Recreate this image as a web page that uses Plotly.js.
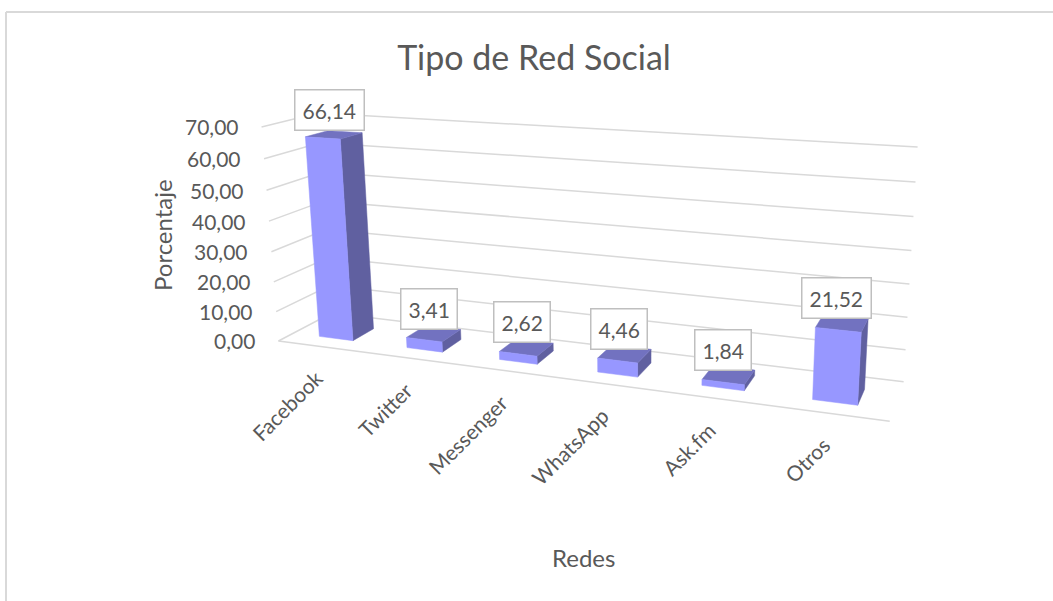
<!DOCTYPE html>
<html><head><meta charset="utf-8">
<script src="https://cdn.plot.ly/plotly-3.0.1.min.js"></script>
<style>html,body{margin:0;padding:0;background:#fff}#c{width:1053px;height:601px}</style>
</head><body><div id="c"></div>
<script>
var categories=["Facebook","Twitter","Messenger","WhatsApp","Ask.fm","Otros"];
var values=[66.14,3.41,2.62,4.46,1.84,21.52];
var barLabels=["66,14","3,41","2,62","4,46","1,84","21,52"];
var zTicks=[0,10,20,30,40,50,60,70];
var zTickText=["0,00","10,00","20,00","30,00","40,00","50,00","60,00","70,00"];
var zMax=70;

var FONT='Lato',INK='#595959',GRID='#d9d9d9';
var FRONT='#9797ff',SIDE='#6060a0',TOP='#7272c0';
var BAR=0.39,Y0=0.27,Y1=0.68;

// Perspective scale: (category, depth, value) to the hidden cartesian axes, fitted on the box corners
var corners=[[0,0,0,278,341,3],[1,0,0,890,421,1],[0,1,0,336,313,1],[1,1,0,903,382,1],[0,0,1,262,127,3],[0,1,1,314,113,1],[1,1,1,918,147,1]];
function fitCamera(){
 var A=[],b=[];
 corners.forEach(function(q){
  var x=q[0],y=q[1],z=q[2],u=q[3]/1000,v=q[4]/1000,w=q[5];
  A.push([x,y,z,1,0,0,0,0,-u*x,-u*y,-u*z].map(function(e){return e*w}));b.push(u*w);
  A.push([0,0,0,0,x,y,z,1,-v*x,-v*y,-v*z].map(function(e){return e*w}));b.push(v*w);
 });
 var n=11,M=[];
 for(var i=0;i<n;i++){M.push([]);for(var j=0;j<n;j++){var s=0;A.forEach(function(r){s+=r[i]*r[j]});M[i].push(s)}
  var t=0;A.forEach(function(r,k){t+=r[i]*b[k]});M[i].push(t)}
 for(var c=0;c<n;c++){var p=c;for(var r=c+1;r<n;r++)if(Math.abs(M[r][c])>Math.abs(M[p][c]))p=r;
  var tmp=M[c];M[c]=M[p];M[p]=tmp;
  for(var r=0;r<n;r++)if(r!==c){var f=M[r][c]/M[c][c];for(var j=c;j<=n;j++)M[r][j]-=f*M[c][j]}}
 return M.map(function(r,i){return r[n]/r[i]});
}
var C=fitCamera();
function proj(cat,depth,val){
 var x=cat/categories.length,y=depth,z=val/zMax,w=C[8]*x+C[9]*y+C[10]*z+1;
 return [1000*(C[0]*x+C[1]*y+C[2]*z+C[3])/w,1000*(C[4]*x+C[5]*y+C[6]*z+C[7])/w];
}
function poly(tr,pts){pts.forEach(function(p){tr.x.push(p[0]);tr.y.push(p[1])});tr.x.push(pts[0][0],null);tr.y.push(pts[0][1],null)}
function face(color){return {type:'scatter',mode:'lines',x:[],y:[],fill:'toself',fillcolor:color,line:{color:color,width:0.5},hoverinfo:'skip',connectgaps:false,showlegend:false}}

var traces=[];
zTicks.forEach(function(v){
 var a=proj(0,0,v),b=proj(0,1,v),c=proj(categories.length,1,v);
 traces.push({type:'scatter',mode:'lines',x:[a[0],b[0],c[0]],y:[a[1],b[1],c[1]],line:{color:GRID,width:1.5},hoverinfo:'skip',showlegend:false});
});
var f0=proj(0,0,0),f1=proj(categories.length,0,0);
traces.push({type:'scatter',mode:'lines',x:[f0[0],f1[0]],y:[f0[1],f1[1]],line:{color:GRID,width:1.5},hoverinfo:'skip',showlegend:false});

var sideT=face(SIDE),topT=face(TOP),frontT=face(FRONT);
values.forEach(function(v,c){
 var x0=c+.5-BAR/2,x1=c+.5+BAR/2;
 poly(sideT,[proj(x1,Y0,0),proj(x1,Y1,0),proj(x1,Y1,v),proj(x1,Y0,v)]);
 poly(topT,[proj(x0,Y0,v),proj(x1,Y0,v),proj(x1,Y1,v),proj(x0,Y1,v)]);
 poly(frontT,[proj(x0,Y0,0),proj(x1,Y0,0),proj(x1,Y0,v),proj(x0,Y0,v)]);
});
traces.push(sideT,topT,frontT);

var ann=[];
function label(o){ann.push(Object.assign({xref:'x',yref:'y',showarrow:false,font:{family:FONT,size:21,color:INK}},o))}
zTicks.forEach(function(v,i){var p=proj(0,0,v);label({x:p[0],y:p[1],text:zTickText[i],xanchor:'right',xshift:-21})});
categories.forEach(function(t,c){var p=proj(c+.5,0,0);label({x:p[0],y:p[1],text:t,textangle:-45,xanchor:'right',yanchor:'top',xshift:8,yshift:-16})});
values.forEach(function(v,c){var p=proj(c+.5,.5,v);label({x:p[0],y:p[1],text:barLabels[c],xshift:-6,yshift:24,bgcolor:'#fff',bordercolor:'#bfbfbf',borderwidth:1.5,borderpad:7})});
ann.push({xref:'paper',yref:'paper',x:583/1053,y:1-557/601,xanchor:'center',yanchor:'middle',text:'Redes',showarrow:false,font:{family:FONT,size:24,color:INK}});
ann.push({xref:'paper',yref:'paper',x:162/1053,y:1-235/601,xanchor:'center',yanchor:'middle',text:'Porcentaje',textangle:-90,showarrow:false,font:{family:FONT,size:24,color:INK}});

Plotly.newPlot('c',traces,{
 width:1053,height:601,margin:{l:0,r:0,t:0,b:0},paper_bgcolor:'#fff',plot_bgcolor:'#fff',showlegend:false,
 title:{text:'Tipo de Red Social',font:{family:FONT,size:34,color:INK},x:534/1053,xanchor:'center',y:1-58/601,yanchor:'middle'},
 xaxis:{range:[0,1053],visible:false,fixedrange:true},
 yaxis:{range:[601,0],visible:false,fixedrange:true},
 shapes:[
  {type:'line',xref:'paper',yref:'paper',x0:6/1053,x1:1,y0:1-12/601,y1:1-12/601,line:{color:GRID,width:2}},
  {type:'line',xref:'paper',yref:'paper',x0:6/1053,x1:6/1053,y0:1-12/601,y1:0,line:{color:GRID,width:2}}
 ],
 annotations:ann
},{displayModeBar:false,staticPlot:true});
</script></body></html>
